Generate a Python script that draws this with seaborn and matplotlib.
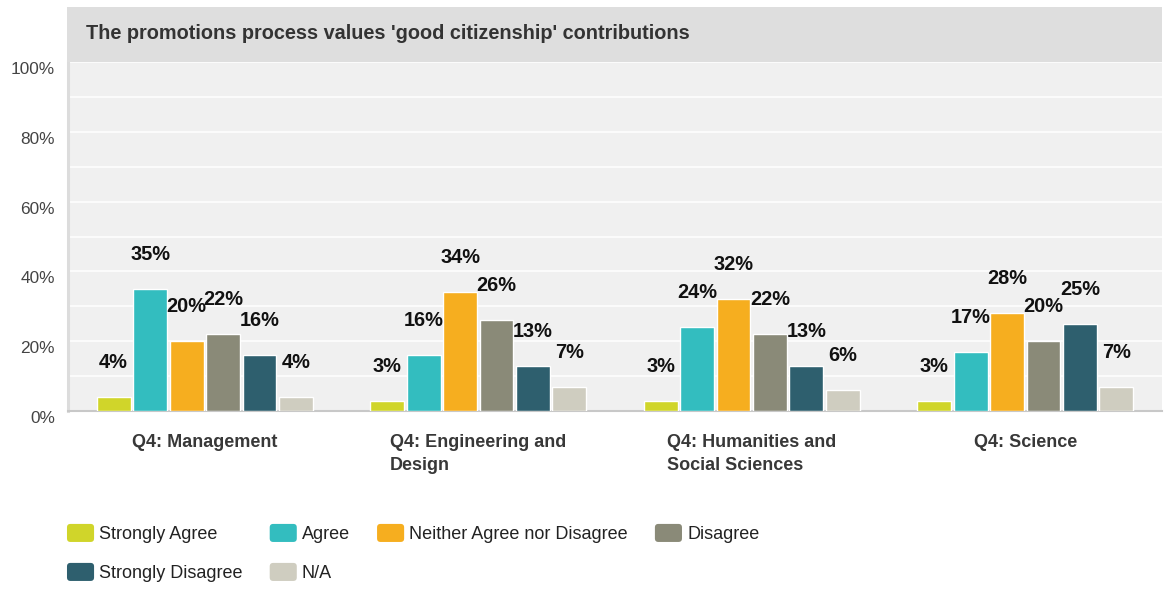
import pandas as pd
import seaborn as sns
import matplotlib.pyplot as plt
from matplotlib.patches import Rectangle, Patch, FancyBboxPatch
from matplotlib.legend_handler import HandlerPatch

categories = ['Q4: Management', 'Q4: Engineering and\nDesign',
              'Q4: Humanities and\nSocial Sciences', 'Q4: Science']
responses = ['Strongly Agree', 'Agree', 'Neither Agree nor Disagree',
             'Disagree', 'Strongly Disagree', 'N/A']
colors = ['#d0d52a', '#33bdbf', '#f6ae1f', '#8a8a78', '#2e5f6e', '#cfcdc0']

management = [4, 35, 20, 22, 16, 4]
engineering = [3, 16, 34, 26, 13, 7]
humanities = [3, 24, 32, 22, 13, 6]
science = [3, 17, 28, 20, 25, 7]

title = "The promotions process values 'good citizenship' contributions"

rows = []
for cat, vals in zip(categories, [management, engineering, humanities, science]):
    for resp, v in zip(responses, vals):
        rows.append({'category': cat, 'response': resp, 'value': v})
df = pd.DataFrame(rows)


class RoundHandler(HandlerPatch):
    # rounded square swatches like the original legend
    def create_artists(self, legend, orig_handle, xdescent, ydescent, width, height,
                       fontsize, trans):
        p = FancyBboxPatch((-xdescent, -ydescent), width, height,
                           boxstyle='round,pad=0,rounding_size=2.5',
                           facecolor=orig_handle.get_facecolor(), edgecolor='none',
                           transform=trans)
        return [p]


sns.set_theme(style='white')
plt.rcParams['font.family'] = ['Liberation Sans', 'DejaVu Sans']

fig = plt.figure(figsize=(11.69, 5.9), dpi=100)
ax = fig.add_axes([0.0582, 0.3034, 0.9358, 0.5915])

# title bar
fig.patches.append(Rectangle((0.0573, 0.8949), 0.9367, 0.0932, transform=fig.transFigure,
                             facecolor='#dedede', edgecolor='none', zorder=0))
fig.text(0.0736, 0.9425, title, fontsize=14.3, fontweight='bold', color='#333333',
         va='center', ha='left')

sns.barplot(data=df, x='category', y='value', hue='response', order=categories,
            hue_order=responses, palette=colors, width=0.8, gap=0.07,
            saturation=1, legend=False, ax=ax, zorder=3)

for cont in ax.containers:
    ax.bar_label(cont, fmt='%d%%', padding=18, fontsize=14.4, fontweight='bold',
                 color='#111111')

ax.set_facecolor('#f0f0f0')
ax.set_xlim(-0.5, 3.5)
ax.set_ylim(0, 100)
ax.set_yticks(range(0, 101, 20))
ax.set_yticks(range(10, 100, 20), minor=True)
ax.set_yticklabels([f'{t}%' for t in range(0, 101, 20)], fontsize=12.4, color='#444444',
                   va='top')
ax.grid(axis='y', which='both', color='white', linewidth=1.1, zorder=1)
ax.set_axisbelow(True)
ax.tick_params(axis='y', which='both', length=0, pad=9.4)
ax.tick_params(axis='x', length=0, pad=16.5)
for lbl in ax.get_xticklabels():
    lbl.set_fontweight('bold')
    lbl.set_fontsize(13)
    lbl.set_color('#383838')
    lbl.set_multialignment('left')
    lbl.set_verticalalignment('top')
    lbl.set_linespacing(1.5)
ax.set_xlabel('')
ax.set_ylabel('')
for side in ['top', 'right']:
    ax.spines[side].set_visible(False)
ax.spines['left'].set_color('#dcdcdc')
ax.spines['left'].set_linewidth(2.2)
ax.spines['bottom'].set_color('#c8c8c8')
ax.spines['bottom'].set_linewidth(1.5)

# legend is filled column by column, so order handles to read row-wise
order = [0, 4, 1, 5, 2, 3]
handles = [Patch(facecolor=colors[i], edgecolor='none', label=responses[i]) for i in order]
fig.legend(handles=handles, loc='upper left', bbox_to_anchor=(0.0573, 0.112), ncol=4,
           frameon=False, fontsize=13, borderpad=0, borderaxespad=0, handlelength=1.5,
           handleheight=1.16, handletextpad=0.28, labelspacing=1.1, columnspacing=1.5,
           labelcolor='#222222', handler_map={Patch: RoundHandler()})

fig.savefig('out.png', dpi=100)
